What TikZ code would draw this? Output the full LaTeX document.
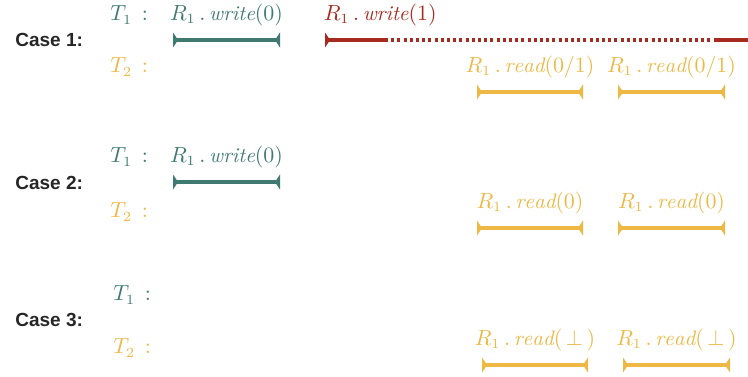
\documentclass[tikz,border=0pt]{standalone}
\usepackage{fontspec}
\newfontfamily\casefont{Liberation Sans}
\usetikzlibrary{arrows.meta}
\definecolor{tealc}{HTML}{3F7A72}
\definecolor{redc}{HTML}{A82A1F}
\definecolor{yellowc}{HTML}{EDB844}
\definecolor{casec}{HTML}{262626}
\tikzset{
  endtick/.tip={Triangle[reversed,length=2.5pt,width=7.5pt]},
  opbar/.style={line width=1.6pt,endtick-endtick},
  caselabel/.style={anchor=west,inner sep=0pt,text=casec,font=\fontsize{9.5}{11}\casefont\bfseries},
  thread/.style={anchor=west,inner sep=0pt,font=\fontsize{10.5}{12}\selectfont},
  optext/.style={midway,yshift=12.5pt,inner sep=0pt,font=\fontsize{10.5}{12}\selectfont}
}
\begin{document}
\begin{tikzpicture}[x=0.5pt,y=-0.5pt]
\useasboundingbox (0,0) rectangle (748,376);

% case 1
\node[caselabel] (c1) at (15,40) {Case 1:};
\node[thread,text=tealc] (c1t1) at (110,15) {$T_1\,:$};
\node[thread,text=yellowc] (c1t2) at (110,67) {$T_2\,:$};
\coordinate (c1w0s) at (173,40);
\coordinate (c1w0e) at (280,40);
\draw[opbar,tealc] (c1w0s) -- (c1w0e) node[optext,text=tealc] (c1w0) {$R_1\,.\,\mathit{write}(0)$};
\coordinate (c1w1s) at (325,40);
\coordinate (c1w1a) at (385,40);
\coordinate (c1w1b) at (715,40);
\coordinate (c1w1e) at (748,40);
\draw[line width=1.6pt,redc,endtick-] (c1w1s) -- (c1w1a) node[optext,pos=0.92,text=redc] (c1w1) {$R_1\,.\,\mathit{write}(1)$};
\draw[line width=1.6pt,redc,dash pattern=on 1.5pt off 1.6pt] (c1w1a) -- (c1w1b);
\draw[line width=1.6pt,redc] (c1w1b) -- (c1w1e);
\coordinate (c1r1s) at (477,92);
\coordinate (c1r1e) at (583,92);
\draw[opbar,yellowc] (c1r1s) -- (c1r1e) node[optext,text=yellowc] (c1r1) {$R_1\,.\,\mathit{read}(0/1)$};
\coordinate (c1r2s) at (618,92);
\coordinate (c1r2e) at (725,92);
\draw[opbar,yellowc] (c1r2s) -- (c1r2e) node[optext,text=yellowc] (c1r2) {$R_1\,.\,\mathit{read}(0/1)$};

% case 2
\node[caselabel] (c2) at (15,183) {Case 2:};
\node[thread,text=tealc] (c2t1) at (110,157) {$T_1\,:$};
\node[thread,text=yellowc] (c2t2) at (110,212) {$T_2\,:$};
\coordinate (c2w0s) at (173,182);
\coordinate (c2w0e) at (280,182);
\draw[opbar,tealc] (c2w0s) -- (c2w0e) node[optext,text=tealc] (c2w0) {$R_1\,.\,\mathit{write}(0)$};
\coordinate (c2r1s) at (477,228);
\coordinate (c2r1e) at (583,228);
\draw[opbar,yellowc] (c2r1s) -- (c2r1e) node[optext,text=yellowc] (c2r1) {$R_1\,.\,\mathit{read}(0)$};
\coordinate (c2r2s) at (618,228);
\coordinate (c2r2e) at (725,228);
\draw[opbar,yellowc] (c2r2s) -- (c2r2e) node[optext,text=yellowc] (c2r2) {$R_1\,.\,\mathit{read}(0)$};

% case 3
\node[caselabel] (c3) at (15,320) {Case 3:};
\node[thread,text=tealc] (c3t1) at (113,295) {$T_1\,:$};
\node[thread,text=yellowc] (c3t2) at (113,348) {$T_2\,:$};
\coordinate (c3r1s) at (482,365);
\coordinate (c3r1e) at (588,365);
\draw[opbar,yellowc] (c3r1s) -- (c3r1e) node[optext,text=yellowc] (c3r1) {$R_1\,.\,\mathit{read}(\,\bot\,)$};
\coordinate (c3r2s) at (623,365);
\coordinate (c3r2e) at (730,365);
\draw[opbar,yellowc] (c3r2s) -- (c3r2e) node[optext,text=yellowc] (c3r2) {$R_1\,.\,\mathit{read}(\,\bot\,)$};
\end{tikzpicture}
\end{document}
